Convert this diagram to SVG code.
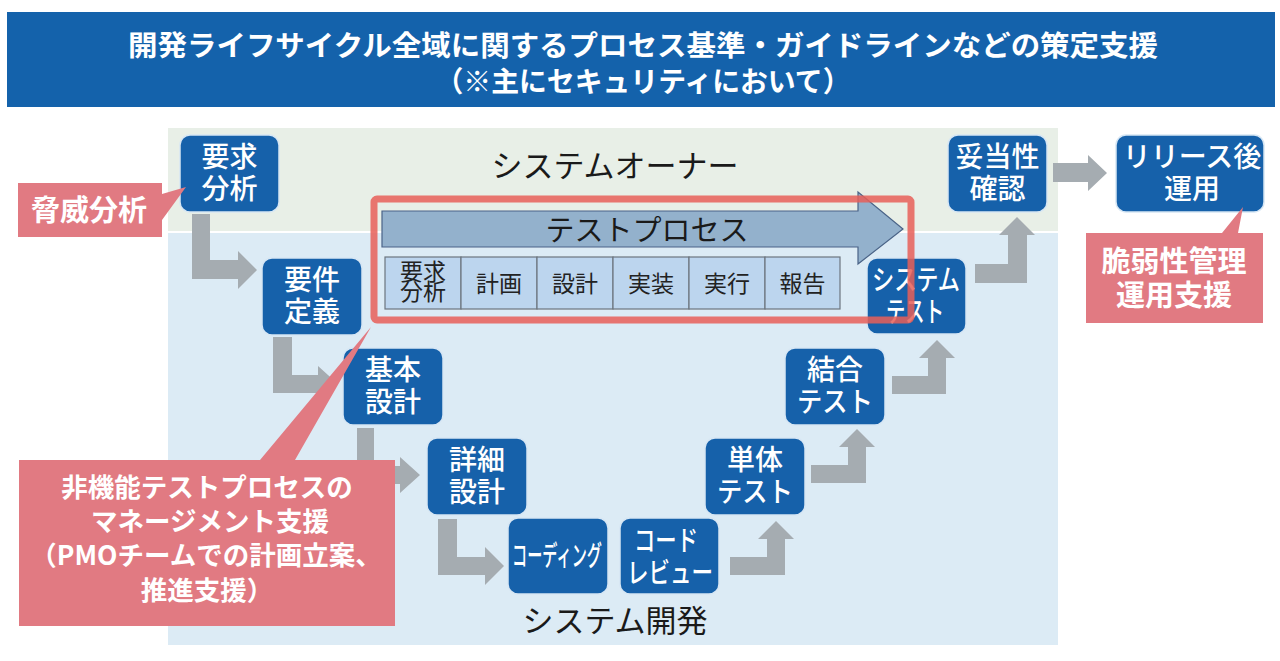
<svg xmlns="http://www.w3.org/2000/svg" width="1280" height="661" viewBox="0 0 1280 661">
<style>
text{font-family:"Noto Sans CJK JP","Noto Sans",sans-serif;}
.node{fill:#1661aa;stroke:#d6e6f4;stroke-width:1.5;}
.nt{fill:#ffffff;font-size:28px;font-weight:500;text-anchor:middle;}
.conn{fill:#a5acb1;}
.call{fill:#e17a82;}
.ct{fill:#ffffff;font-weight:700;text-anchor:middle;}
.cell{fill:#bcd5ee;stroke:#6d767f;stroke-width:1.2;}
.cellt{fill:#222222;font-size:23px;text-anchor:middle;}
.lbl{fill:#1a1a1a;font-size:31px;text-anchor:middle;}
</style>
<rect width="1280" height="661" fill="#ffffff"/>
<g id="banner">
<rect x="7" y="12" width="1268" height="95" fill="#1462ab"/>
<text fill="#ffffff" font-size="28.5" font-weight="700" text-anchor="middle"><tspan x="643" y="56" textLength="1030" lengthAdjust="spacingAndGlyphs">開発ライフサイクル全域に関するプロセス基準・ガイドラインなどの策定支援</tspan><tspan x="643" y="92" textLength="415" lengthAdjust="spacingAndGlyphs">（※主にセキュリティにおいて）</tspan></text>
</g>
<g id="panel-owner">
<rect x="168" y="128" width="890" height="103" fill="#e8efe7"/>
<text class="lbl" x="615" y="177">システムオーナー</text>
</g>
<g id="panel-dev">
<rect x="168" y="233" width="890" height="412" fill="#dcebf5"/>
<text class="lbl" x="615" y="632">システム開発</text>
</g>
<g id="connectors">
<path class="conn" d="M192,214 H210 V260 H238 V251 L257,270 L238,289 V279 H192 Z"/>
<path class="conn" d="M273,337 H292 V375 H318 V366 L338,384 L318,402 V393 H273 Z"/>
<path class="conn" d="M357,428 H374 V466 H400 V457 L420,475 L400,493 V484 H357 Z"/>
<path class="conn" d="M438,519 H457 V557 H485 V547 L504,566 L485,585 V575 H438 Z"/>
<path class="conn" d="M730,557 H767 V539 H758 L776,521 L794,539 H785 V575 H730 Z"/>
<path class="conn" d="M811,465 H848 V447 H839 L857,429 L875,447 H866 V483 H811 Z"/>
<path class="conn" d="M892,376 H928 V358 H919 L937,340 L955,358 H946 V394 H892 Z"/>
<path class="conn" d="M975,264 H1008 V235 H999 L1017,217 L1035,235 H1027 V283 H975 Z"/>
<path class="conn" d="M1053,163 H1088 V155 L1107,173 L1088,191 V182 H1053 Z"/>
</g>
<g id="n-youkyu">
<rect class="node" x="180" y="135" width="99" height="77" rx="10"/>
<text class="nt"><tspan x="229.5" y="167">要求</tspan><tspan x="229.5" y="199">分析</tspan></text>
</g>
<g id="n-youken">
<rect class="node" x="262" y="258" width="100" height="77" rx="10"/>
<text class="nt"><tspan x="312" y="290">要件</tspan><tspan x="312" y="322">定義</tspan></text>
</g>
<g id="n-kihon">
<rect class="node" x="343" y="348" width="100" height="77" rx="10"/>
<text class="nt"><tspan x="393" y="380">基本</tspan><tspan x="393" y="412">設計</tspan></text>
</g>
<g id="n-shousai">
<rect class="node" x="427" y="438" width="100" height="77" rx="10"/>
<text class="nt"><tspan x="477" y="470">詳細</tspan><tspan x="477" y="502">設計</tspan></text>
</g>
<g id="n-coding">
<rect class="node" x="508" y="518" width="100" height="76" rx="10"/>
<text class="nt" x="557" y="566" font-size="24" textLength="90" lengthAdjust="spacingAndGlyphs">コーディング</text>
</g>
<g id="n-review">
<rect class="node" x="620" y="518" width="99" height="76" rx="10"/>
<text class="nt" font-size="26"><tspan x="666" y="551" textLength="64" lengthAdjust="spacingAndGlyphs">コード</tspan><tspan x="670" y="583" textLength="86" lengthAdjust="spacingAndGlyphs">レビュー</tspan></text>
</g>
<g id="n-tantai">
<rect class="node" x="705" y="438" width="100" height="77" rx="10"/>
<text class="nt"><tspan x="755" y="470">単体</tspan><tspan x="755" y="502" textLength="76" lengthAdjust="spacingAndGlyphs">テスト</tspan></text>
</g>
<g id="n-ketsugou">
<rect class="node" x="785" y="348" width="100" height="77" rx="10"/>
<text class="nt"><tspan x="835" y="380">結合</tspan><tspan x="835" y="412" textLength="76" lengthAdjust="spacingAndGlyphs">テスト</tspan></text>
</g>
<g id="n-systest">
<rect class="node" x="867" y="258" width="99" height="76" rx="10"/>
<text class="nt" font-size="25"><tspan x="916" y="290" textLength="88" lengthAdjust="spacingAndGlyphs">システム</tspan><tspan x="915" y="322" textLength="58" lengthAdjust="spacingAndGlyphs">テスト</tspan></text>
</g>
<g id="n-datousei">
<rect class="node" x="948" y="135" width="99" height="77" rx="10"/>
<text class="nt"><tspan x="997.5" y="167">妥当性</tspan><tspan x="997.5" y="199">確認</tspan></text>
</g>
<g id="n-release">
<rect class="node" x="1116" y="135" width="148" height="77" rx="10"/>
<text class="nt" font-size="27"><tspan x="1192" y="167">リリース後</tspan><tspan x="1192" y="199">運用</tspan></text>
</g>
<g id="test-process">
<path d="M382,211 H858 V192 L903,229 L858,264 V247 H382 Z" fill="#93b1cc" stroke="#4a6387" stroke-width="1.2"/>
<text x="647" y="241" fill="#1a1a1a" font-size="29" text-anchor="middle">テストプロセス</text>
<rect class="cell" x="385" y="257" width="76" height="52"/>
<rect class="cell" x="461" y="257" width="76" height="52"/>
<rect class="cell" x="537" y="257" width="76" height="52"/>
<rect class="cell" x="613" y="257" width="76" height="52"/>
<rect class="cell" x="689" y="257" width="76" height="52"/>
<rect class="cell" x="765" y="257" width="75" height="52"/>
<text class="cellt" font-size="17"><tspan x="423" y="280">要求</tspan><tspan x="423" y="300">分析</tspan></text>
<text class="cellt" x="499" y="292">計画</text>
<text class="cellt" x="575" y="292">設計</text>
<text class="cellt" x="651" y="292">実装</text>
<text class="cellt" x="727" y="292">実行</text>
<text class="cellt" x="802.5" y="292">報告</text>
<rect x="374" y="199" width="537" height="121" rx="3" fill="none" stroke="#e85f58" stroke-width="7" stroke-opacity="0.85"/>
</g>
<g id="callout-kyoui">
<path class="call" d="M18,183 H162 V194 L186,187 L162,220 V237 H18 Z"/>
<text class="ct" x="89" y="221" font-size="29">脅威分析</text>
</g>
<g id="callout-hikinou">
<path class="call" d="M19,460 H260 L371,327 L295,460 H395 V626 H19 Z"/>
<text class="ct" font-size="26.5"><tspan x="207" y="497">非機能テストプロセスの</tspan><tspan x="210" y="531">マネージメント支援</tspan><tspan x="206" y="565">（PMOチームでの計画立案、</tspan><tspan x="207" y="600">推進支援）</tspan></text>
</g>
<g id="callout-zeijaku">
<path class="call" d="M1086,233 H1222 L1243,207 L1238,233 H1263 V323 H1086 Z"/>
<text class="ct" font-size="29"><tspan x="1174" y="272">脆弱性管理</tspan><tspan x="1174" y="306">運用支援</tspan></text>
</g>
</svg>
